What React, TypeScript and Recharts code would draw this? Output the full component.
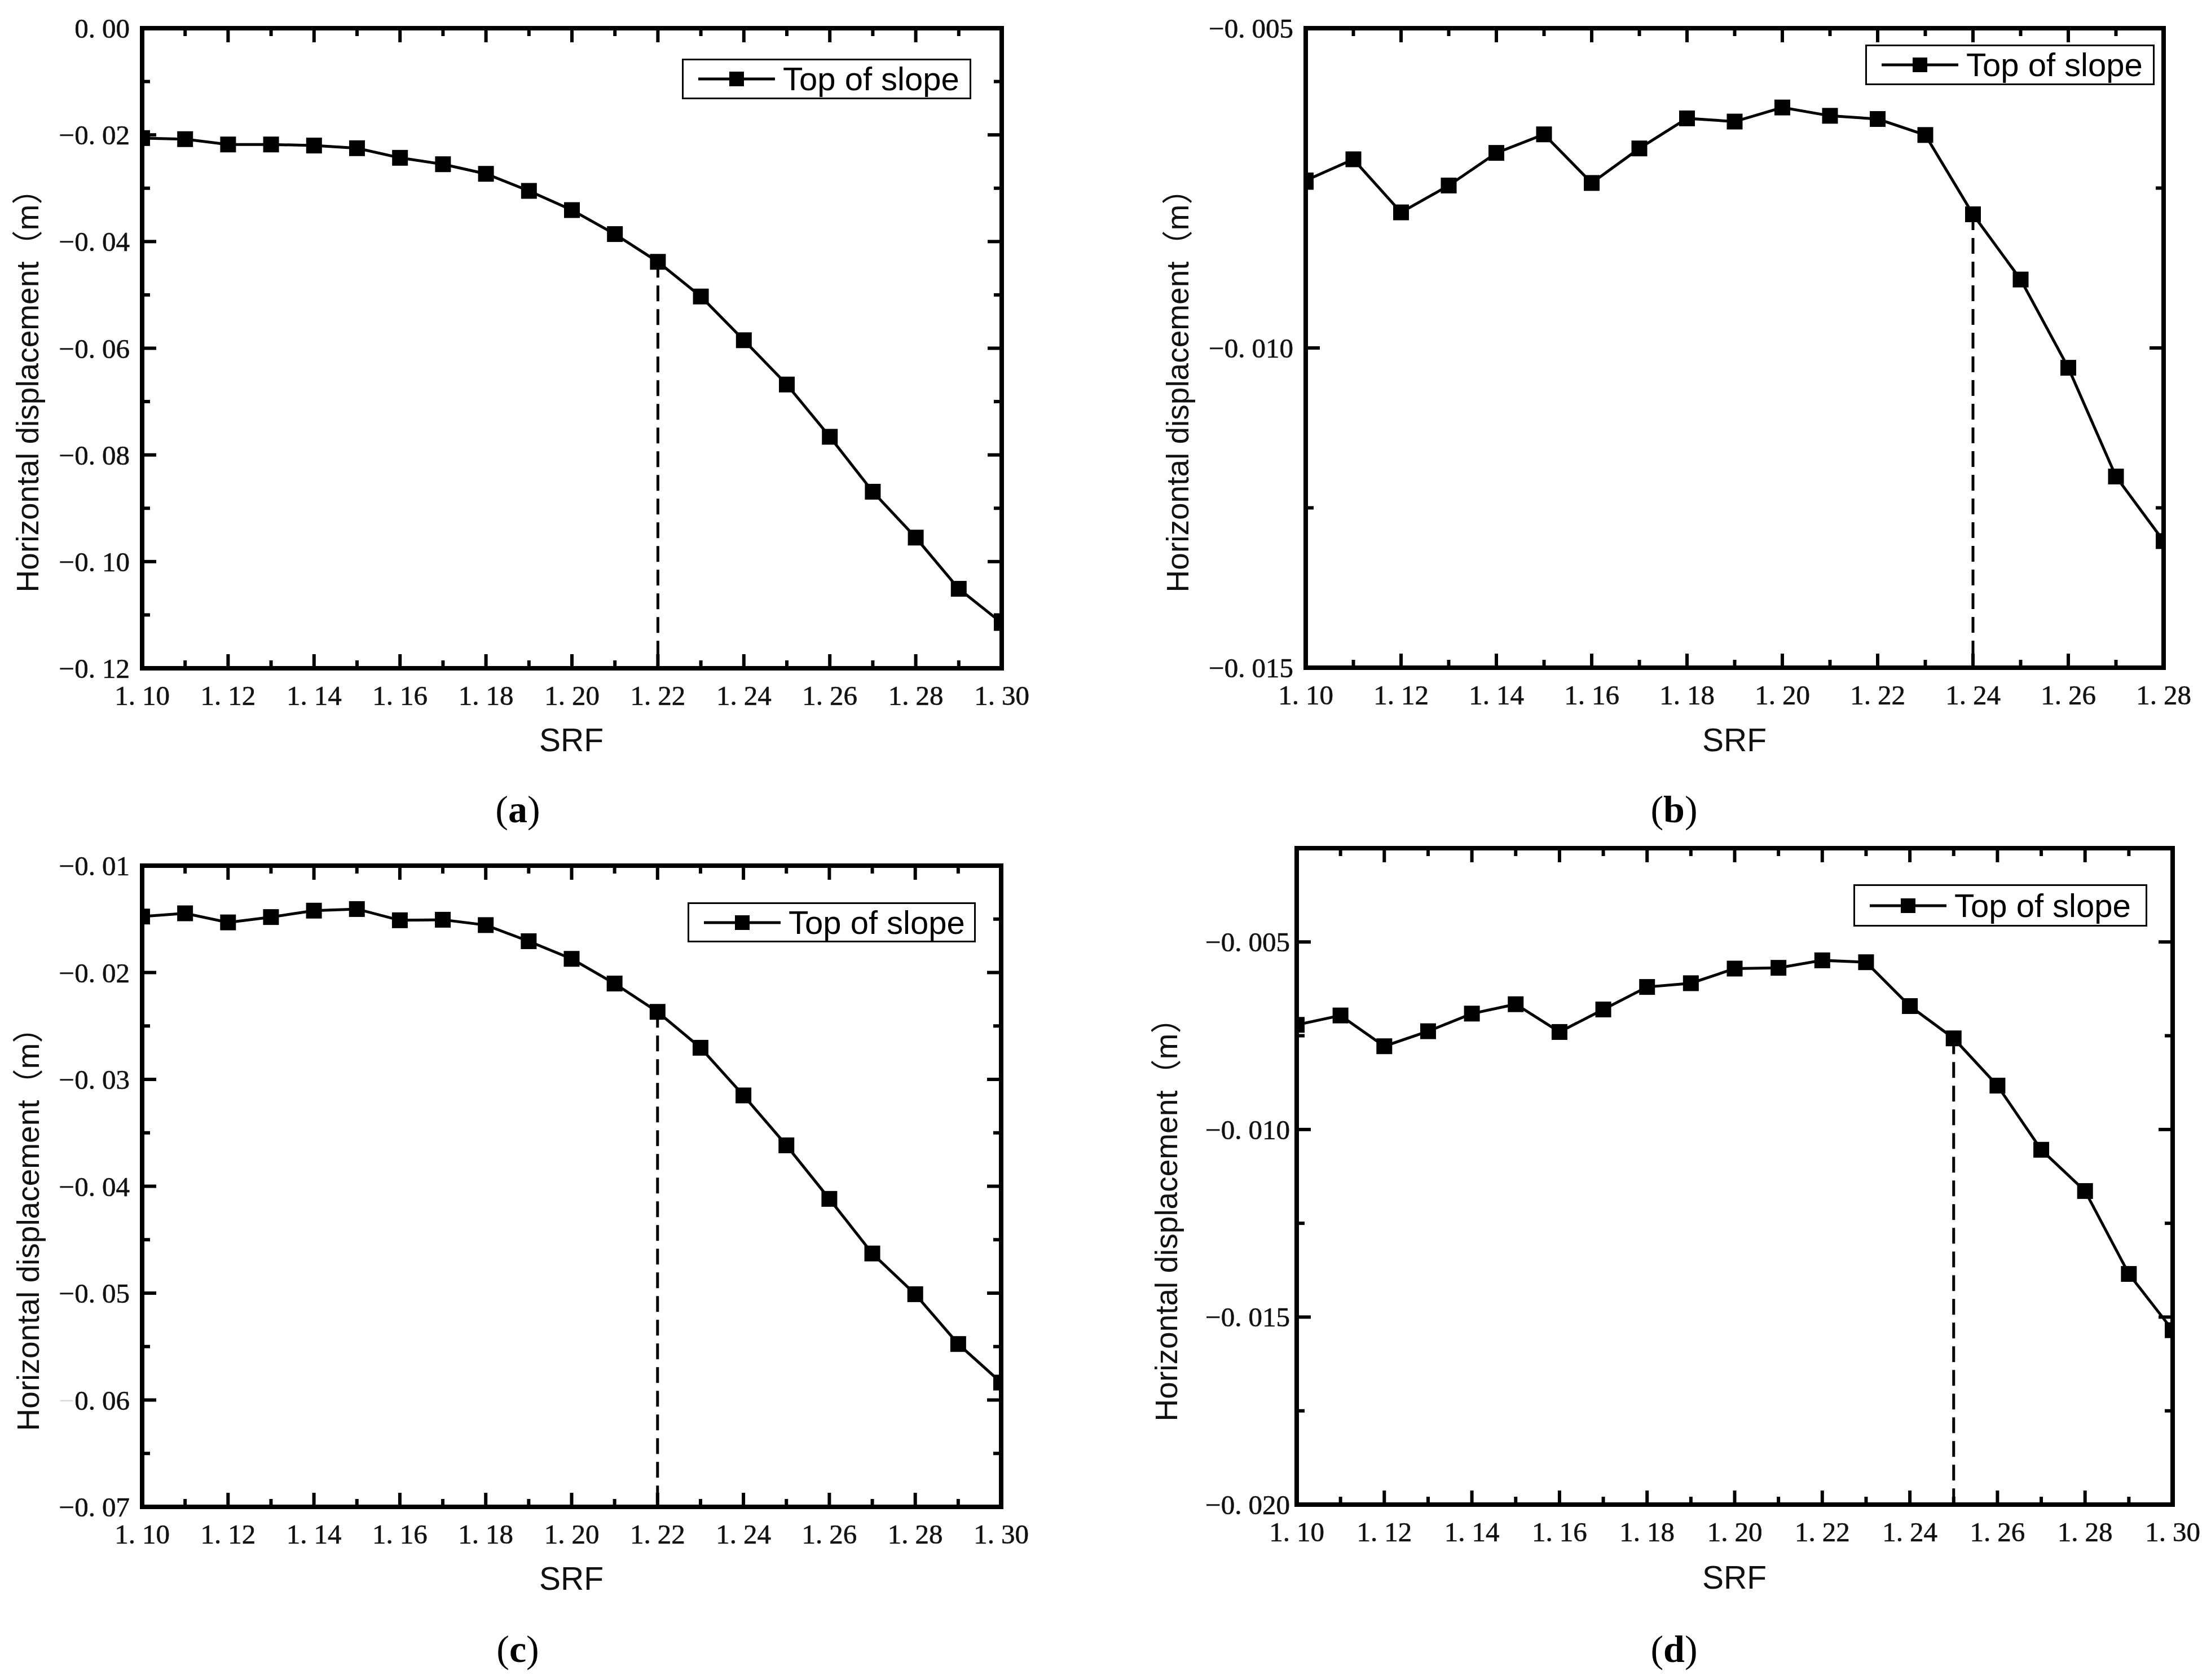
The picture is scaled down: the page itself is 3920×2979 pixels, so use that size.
import React from 'react';
import { LineChart, Line, XAxis, YAxis, ReferenceLine, ReferenceArea } from 'recharts';

// ---------- data ----------
const srf21 = [1.10, 1.11, 1.12, 1.13, 1.14, 1.15, 1.16, 1.17, 1.18, 1.19, 1.20, 1.21, 1.22, 1.23, 1.24, 1.25, 1.26, 1.27, 1.28, 1.29, 1.30];
const srf19 = [1.10, 1.11, 1.12, 1.13, 1.14, 1.15, 1.16, 1.17, 1.18, 1.19, 1.20, 1.21, 1.22, 1.23, 1.24, 1.25, 1.26, 1.27, 1.28];

const dispA = [-0.0206, -0.0208, -0.0218, -0.0218, -0.0220, -0.0225, -0.0243, -0.0255, -0.0273, -0.0305, -0.0341, -0.0386, -0.0438, -0.0503, -0.0585, -0.0668, -0.0766, -0.0869, -0.0955, -0.1051, -0.1115];
const dispB = [-0.00738, -0.00705, -0.00788, -0.00746, -0.00695, -0.00666, -0.00742, -0.00688, -0.00641, -0.00646, -0.00624, -0.00637, -0.00642, -0.00667, -0.00791, -0.00893, -0.01031, -0.01201, -0.01302];
const dispC = [-0.01476, -0.01446, -0.01531, -0.01481, -0.01421, -0.01406, -0.01511, -0.01506, -0.01556, -0.01707, -0.01872, -0.02103, -0.02368, -0.02704, -0.03150, -0.03617, -0.04118, -0.04629, -0.05010, -0.05476, -0.05837];
const dispD = [-0.00721, -0.00696, -0.00778, -0.00738, -0.00691, -0.00666, -0.00740, -0.00680, -0.00620, -0.00610, -0.00571, -0.00569, -0.00549, -0.00554, -0.00671, -0.00757, -0.00883, -0.01054, -0.01164, -0.01385, -0.01535];

// failure SRF (dashed markers)
const failA = 1.22;
const failB = 1.24;
const failC = 1.22;
const failD = 1.25;

// x ticks (all ticks incl. minor) and labelled ticks
const xTicks130 = [1.10, 1.11, 1.12, 1.13, 1.14, 1.15, 1.16, 1.17, 1.18, 1.19, 1.20, 1.21, 1.22, 1.23, 1.24, 1.25, 1.26, 1.27, 1.28, 1.29, 1.30];
const xLabels130 = ['1.10', '1.12', '1.14', '1.16', '1.18', '1.20', '1.22', '1.24', '1.26', '1.28', '1.30'];
const xTicks128 = [1.10, 1.11, 1.12, 1.13, 1.14, 1.15, 1.16, 1.17, 1.18, 1.19, 1.20, 1.21, 1.22, 1.23, 1.24, 1.25, 1.26, 1.27, 1.28];
const xLabels128 = ['1.10', '1.12', '1.14', '1.16', '1.18', '1.20', '1.22', '1.24', '1.26', '1.28'];

// y ticks (all) and labelled ticks
const yTicksA = [0, -0.01, -0.02, -0.03, -0.04, -0.05, -0.06, -0.07, -0.08, -0.09, -0.10, -0.11, -0.12];
const yMajorA = [0, -0.02, -0.04, -0.06, -0.08, -0.10, -0.12];
const yLabelsA = ['0.00', '−0.02', '−0.04', '−0.06', '−0.08', '−0.10', '−0.12'];

const yTicksB = [-0.005, -0.0075, -0.010, -0.0125, -0.015];
const yMajorB = [-0.005, -0.010, -0.015];
const yLabelsB = ['−0.005', '−0.010', '−0.015'];

const yTicksC = [-0.01, -0.015, -0.02, -0.025, -0.03, -0.035, -0.04, -0.045, -0.05, -0.055, -0.06, -0.065, -0.07];
const yMajorC = [-0.01, -0.02, -0.03, -0.04, -0.05, -0.06, -0.07];
const yLabelsC = ['−0.01', '−0.02', '−0.03', '−0.04', '−0.05', '0.06', '−0.07'];

const yTicksD = [-0.005, -0.0075, -0.010, -0.0125, -0.015, -0.0175, -0.020];
const yMajorD = [-0.005, -0.010, -0.015, -0.020];
const yLabelsD = ['−0.005', '−0.010', '−0.015', '−0.020'];

const seriesName = 'Top of slope';
const xTitle = 'SRF';
const yTitle = 'Horizontal displacement（m）';

// ---------- styling constants ----------
const Y_W = 240;
const MT = 30;
const MR = 80;
const X_H = 100;
const AXIS_W = 8;
const TICK_W = 6;
const MAJ = 25;
const MIN = 14;
const TICK_FONT = 'Liberation Serif, DejaVu Serif, serif';
const SANS = 'Liberation Sans, Arial, Noto Sans CJK SC, sans-serif';

const TickText = ({ x, y, anchor, label, faintMinus }: any) => {
  const idx = label.indexOf('.');
  const a = label.slice(0, idx + 1);
  const b = label.slice(idx + 1);
  return (
    <text x={x} y={y} textAnchor={anchor} dominantBaseline="central" fontFamily={TICK_FONT} fontSize={49} fill="#111"
      stroke="#111" strokeWidth={0.6}>
      {faintMinus ? <tspan fill="#dcdccf" stroke="none">−</tspan> : null}
      <tspan>{a}</tspan>
      <tspan dx={12}>{b}</tspan>
    </text>
  );
};

const near = (a: number, b: number) => Math.abs(a - b) < 1e-9;

type PanelProps = {
  plotLeft: number; plotTop: number; plotW: number; plotH: number;
  srf: number[]; disp: number[];
  xDomain: [number, number]; xTicks: number[]; xLabels: string[];
  yDomain: [number, number]; yTicks: number[]; yMajor: number[]; yLabels: string[];
  fail: number; yGap: number;
};

const Panel = (p: PanelProps) => {
  const data = p.srf.map((x, i) => ({ x, y: p.disp[i] }));
  const failIdx = p.srf.findIndex((x) => near(x, p.fail));
  const failY = p.disp[failIdx];
  const width = Y_W + p.plotW + MR;
  const height = MT + p.plotH + X_H;

  // bottom axis ticks: inward tick on bottom and mirrored tick on top edge
  const bottomTick = (t: any) => {
    const v = t.payload.value as number;
    const lbl = v.toFixed(2);
    const major = p.xLabels.includes(lbl);
    const len = major ? MAJ : MIN;
    const top = t.y - p.plotH;
    return (
      <g>
        <line x1={t.x} x2={t.x} y1={t.y} y2={t.y - len} stroke="#000" strokeWidth={TICK_W} />
        <line x1={t.x} x2={t.x} y1={top} y2={top + len} stroke="#000" strokeWidth={TICK_W} />
        {major ? <TickText x={t.x} y={t.y + 48} anchor="middle" label={lbl} /> : null}
      </g>
    );
  };
  // left axis ticks: inward tick on left and mirrored tick on right edge
  const leftTick = (t: any) => {
    const v = t.payload.value as number;
    const mi = p.yMajor.findIndex((m) => near(m, v));
    const major = mi >= 0;
    const len = major ? MAJ : MIN;
    const lbl = major ? p.yLabels[mi] : '';
    const faint = major && v < 0 && !lbl.startsWith('−');
    const right = t.x + p.plotW;
    return (
      <g>
        <line x1={t.x} x2={t.x + len} y1={t.y} y2={t.y} stroke="#000" strokeWidth={TICK_W} />
        <line x1={right} x2={right - len} y1={t.y} y2={t.y} stroke="#000" strokeWidth={TICK_W} />
        {major ? <TickText x={t.x - p.yGap} y={t.y} anchor="end" label={lbl} faintMinus={faint} /> : null}
      </g>
    );
  };
  const square = (d: any) => (
    <rect key={`sq-${d.index}`} x={d.cx - 14} y={d.cy - 14} width={28} height={28} fill="#000" />
  );

  return (
    <div style={{ position: 'absolute', left: p.plotLeft - Y_W, top: p.plotTop - MT, width, height }}>
      <LineChart width={width} height={height} data={data} margin={{ top: MT, right: MR, bottom: 0, left: 0 }} style={{ overflow: 'visible' }}>
        <XAxis dataKey="x" type="number" domain={p.xDomain} ticks={p.xTicks} interval={0} allowDataOverflow
          height={X_H} tickLine={false} tickSize={0} tickMargin={0} axisLine={false} tick={bottomTick} />
        <YAxis type="number" domain={p.yDomain} ticks={p.yTicks} interval={0} allowDataOverflow
          width={Y_W} tickLine={false} tickSize={0} tickMargin={0} axisLine={false} tick={leftTick} />
        <ReferenceLine segment={[{ x: p.fail, y: failY }, { x: p.fail, y: p.yDomain[0] }]}
          stroke="#000" strokeWidth={5} strokeDasharray="28 14" ifOverflow="visible" />
        <Line type="linear" dataKey="y" name={seriesName} stroke="#000" strokeWidth={5} dot={square} activeDot={false} isAnimationActive={false} />
        <ReferenceArea x1={p.xDomain[0]} x2={p.xDomain[1]} y1={p.yDomain[0]} y2={p.yDomain[1]}
          fill="none" fillOpacity={0} stroke="#000" strokeWidth={AXIS_W} strokeOpacity={1} ifOverflow="visible" />
      </LineChart>
    </div>
  );
};

const LegendBox = ({ left, top, width, height }: any) => (
  <div style={{ position: 'absolute', left, top, width, height, boxSizing: 'border-box', border: '3px solid #000', background: '#fff' }}>
    <svg style={{ position: 'absolute', left: 26, top: height / 2 - 19 }} width={140} height={32}>
      <line x1={0} x2={136} y1={16} y2={16} stroke="#000" strokeWidth={5} />
      <rect x={55} y={3} width={26} height={26} fill="#000" />
    </svg>
    <div style={{ position: 'absolute', left: 176, top: 0, height: height - 6, lineHeight: `${height - 6}px`, fontFamily: SANS, fontSize: 58, color: '#000', whiteSpace: 'nowrap' }}>
      {seriesName}
    </div>
  </div>
);

const XTitle = ({ cx, cy }: any) => (
  <div style={{ position: 'absolute', left: cx, top: cy, transform: 'translate(-50%, -50%)', fontFamily: SANS, fontSize: 57, color: '#111', whiteSpace: 'nowrap', lineHeight: 1 }}>
    {xTitle}
  </div>
);
const YTitle = ({ cx, cy }: any) => (
  <div style={{ position: 'absolute', left: cx, top: cy, transform: 'translate(-50%, -50%) rotate(-90deg)', fontFamily: SANS, fontSize: 55, color: '#111', whiteSpace: 'nowrap', lineHeight: 1 }}>
    {yTitle}
  </div>
);
const Caption = ({ cx, cy, letter }: any) => (
  <div style={{ position: 'absolute', left: cx, top: cy, transform: 'translate(-50%, -50%)', fontFamily: 'Liberation Serif, serif', fontSize: 68, color: '#000', whiteSpace: 'nowrap', lineHeight: 1 }}>
    (<b>{letter}</b>)
  </div>
);

export default function App() {
  return (
    <div style={{ position: 'absolute', left: 0, top: 0, width: 3920, height: 2979, background: '#fff', overflow: 'hidden' }}>
      <Panel plotLeft={252} plotTop={50} plotW={1524} plotH={1135} srf={srf21} disp={dispA}
        xDomain={[1.10, 1.30]} xTicks={xTicks130} xLabels={xLabels130}
        yDomain={[-0.12, 0]} yTicks={yTicksA} yMajor={yMajorA} yLabels={yLabelsA} fail={failA} yGap={22} />
      <Panel plotLeft={2315} plotTop={50} plotW={1521} plotH={1134} srf={srf19} disp={dispB}
        xDomain={[1.10, 1.28]} xTicks={xTicks128} xLabels={xLabels128}
        yDomain={[-0.015, -0.005]} yTicks={yTicksB} yMajor={yMajorB} yLabels={yLabelsB} fail={failB} yGap={22} />
      <Panel plotLeft={252} plotTop={1535} plotW={1523} plotH={1137} srf={srf21} disp={dispC}
        xDomain={[1.10, 1.30]} xTicks={xTicks130} xLabels={xLabels130}
        yDomain={[-0.07, -0.01]} yTicks={yTicksC} yMajor={yMajorC} yLabels={yLabelsC} fail={failC} yGap={22} />
      <Panel plotLeft={2299} plotTop={1504} plotW={1553} plotH={1164} srf={srf21} disp={dispD}
        xDomain={[1.10, 1.30]} xTicks={xTicks130} xLabels={xLabels130}
        yDomain={[-0.020, -0.0025]} yTicks={yTicksD} yMajor={yMajorD} yLabels={yLabelsD} fail={failD} yGap={12} />

      <LegendBox left={1209} top={104} width={513} height={72} />
      <LegendBox left={3307} top={79} width={513} height={72} />
      <LegendBox left={1219} top={1600} width={511} height={71} />
      <LegendBox left={3286} top={1568} width={521} height={75} />

      <XTitle cx={1013} cy={1312} />
      <XTitle cx={3075} cy={1312} />
      <XTitle cx={1013} cy={2799} />
      <XTitle cx={3075} cy={2797} />

      <YTitle cx={49} cy={679} />
      <YTitle cx={2088} cy={679} />
      <YTitle cx={50} cy={2166} />
      <YTitle cx={2068} cy={2149} />

      <Caption cx={918} cy={1435} letter="a" />
      <Caption cx={2968} cy={1435} letter="b" />
      <Caption cx={918} cy={2924} letter="c" />
      <Caption cx={2968} cy={2924} letter="d" />
    </div>
  );
}
